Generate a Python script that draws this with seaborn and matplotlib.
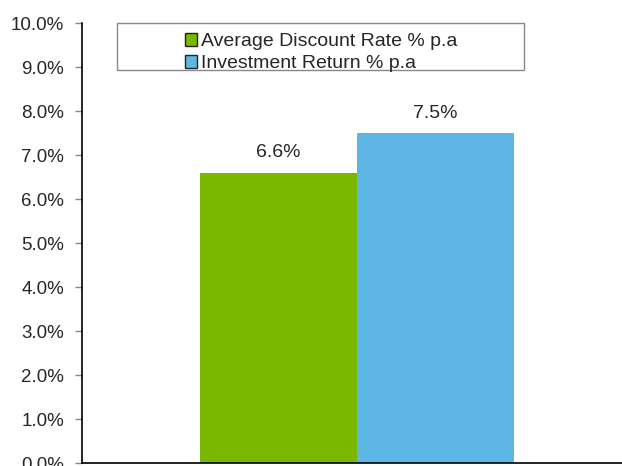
import numpy as np
import pandas as pd
import matplotlib
matplotlib.use("Agg")
import matplotlib.pyplot as plt
import seaborn as sns
from matplotlib.patches import Patch, Rectangle

series = ["Average Discount Rate % p.a", "Investment Return % p.a"]
values = [6.6, 7.5]
colors = ["#7AB800", "#5EB6E4"]
yticks = np.arange(0, 11, 1)

df = pd.DataFrame({"group": ["", ""], "series": series, "value": values})

sns.set_style("white")
plt.rcParams["font.family"] = ["Liberation Sans", "DejaVu Sans"]

fig = plt.figure(figsize=(6.22, 4.66), dpi=100)
ax = fig.add_axes([82 / 622, 3 / 466, 1 - 82 / 622, (463 - 23) / 466])

sns.barplot(data=df, x="group", y="value", hue="series", palette=colors,
            width=0.8, saturation=1, linewidth=0, legend=False, ax=ax)

ax.set_xlim(-0.7006, 0.675)
ax.set_ylim(0, 10)
ax.set_yticks(yticks)
ax.set_yticklabels([f"{t:.1f}%" for t in yticks], fontsize=13.5)
ax.set_xticks([])
ax.set_xlabel("")
ax.set_ylabel("")
ax.tick_params(axis="y", direction="out", length=5, width=1, color="#888888", pad=8, left=True)

for c in ax.containers:
    ax.bar_label(c, labels=[f"{v:.1f}%" for v in c.datavalues], padding=8, fontsize=14)

for s in ["top", "right"]:
    ax.spines[s].set_visible(False)
for s in ["left", "bottom"]:
    ax.spines[s].set_color("black")
    ax.spines[s].set_linewidth(1.2)

# legend box (wider than its content, like the original)
fig.patches.append(Rectangle((117 / 622, 1 - 70 / 466), (524 - 117) / 622, 47 / 466,
                             transform=fig.transFigure, facecolor="white",
                             edgecolor="#888888", linewidth=1, zorder=5))
handles = [Patch(facecolor=c, edgecolor="#222222", linewidth=1) for c in colors]
fig.legend(handles, series, loc="upper left", bbox_to_anchor=(171 / 622, 1 - 19 / 466),
           frameon=False, fontsize=14, handlelength=0.65, handleheight=0.65,
           handletextpad=0.2, labelspacing=0.25, borderpad=0.2)

fig.savefig("out.png", dpi=100)
